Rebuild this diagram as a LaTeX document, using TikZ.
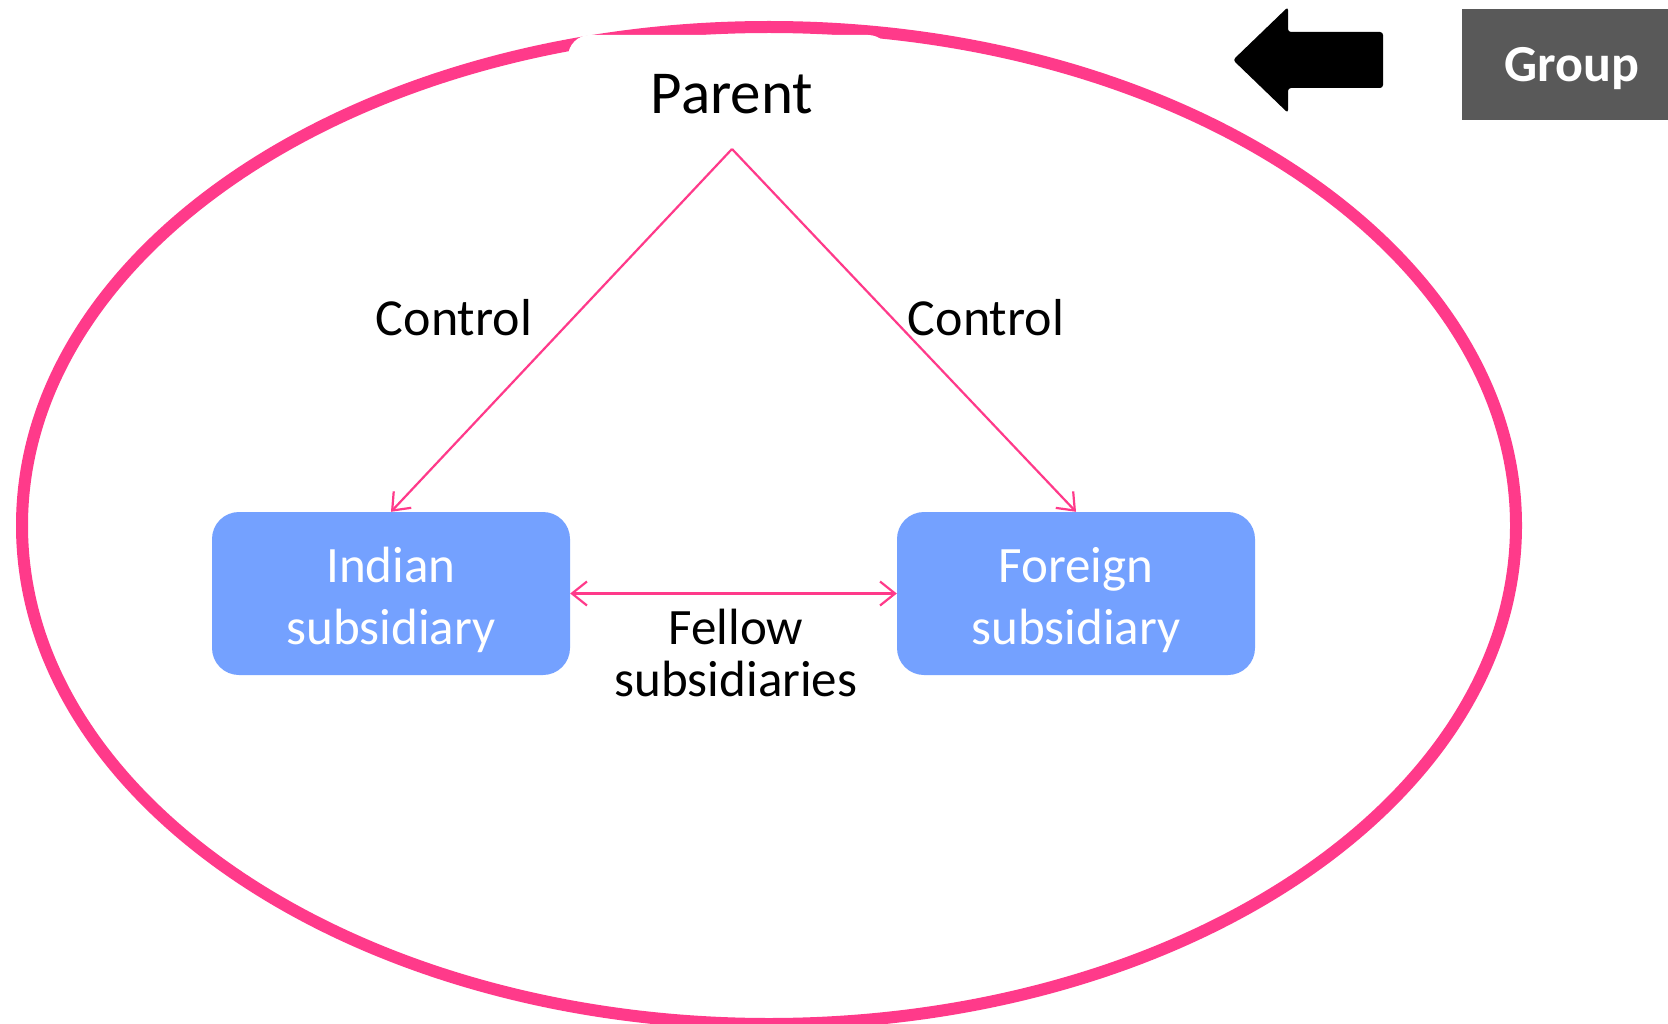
\documentclass[tikz,border=0pt]{standalone}
\usepackage{fontspec}
\setmainfont{Carlito}
\usetikzlibrary{arrows.meta}
\definecolor{groupring}{HTML}{FF3A8A}
\definecolor{subblue}{HTML}{74A1FF}
\definecolor{tagGray}{HTML}{595959}
\begin{document}
\begin{tikzpicture}[x=1pt,y=-1pt,
  ring/.style={draw=groupring,line width=12pt},
  link/.style={draw=groupring,line width=2.2pt,
    arrows={-Straight Barb[length=15pt,width=24pt,line width=2.2pt]}},
  subbox/.style={fill=subblue,rounded corners=27pt,minimum width=358pt,
    minimum height=163pt,inner sep=0pt},
  subtext/.style={text=white,align=center,inner sep=0pt,
    font=\fontsize{51}{62}\selectfont},
  lbl/.style={text=black,align=center,inner sep=0pt,
    font=\fontsize{52}{52}\selectfont}]
\useasboundingbox (0,0) rectangle (1668,1024);
\fill[white] (0,0) rectangle (1668,1024);

% the group boundary
\begin{scope}
\clip (0,0) rectangle (1668,1024);
\draw[ring] (769,525.5) ellipse [x radius=747pt, y radius=498.5pt];
\end{scope}

% parent label on a white tab over the boundary
\node[fill=white,rounded corners=22pt,minimum width=322pt,minimum height=106pt,inner sep=0pt]
  (parentbg) at (729,88) {};
\node[lbl,font=\fontsize{61}{61}\selectfont,anchor=base] (parent) at (732,114) {Parent};
\coordinate (apex) at (732,149);

% subsidiaries
\node[subbox] (indian) at (391,593.5) {};
\node[subbox] (foreign) at (1076,593.5) {};
\node[subtext] (indianT) at (391,600) {Indian\\subsidiary};
\node[subtext] (foreignT) at (1076,600) {Foreign\\subsidiary};

% control and fellow links
\draw[link] (apex) -- (indian.north);
\draw[link] (apex) -- (foreign.north);
\draw[link,arrows={Straight Barb[length=15pt,width=24pt,line width=2.2pt]-Straight Barb[length=15pt,width=24pt,line width=2.2pt]}]
  (indian.east) -- (foreign.west);

\node[lbl] (ctlL) at (454,318) {Control};
\node[lbl] (ctlR) at (986,318) {Control};
\node[lbl,align=center,font=\fontsize{51}{52}\selectfont,anchor=north] (fellow) at (736,609) {Fellow\\subsidiaries};

% group tag with pointer
\node[fill=tagGray,minimum width=206pt,minimum height=111pt,inner sep=0pt] (group) at (1565,64.5) {};
\node[text=white,inner sep=0pt,font=\bfseries\fontsize{52}{52}\selectfont] (groupT) at (1572,69) {Group};
\fill[black,rounded corners=3pt] (1233,60) -- (1288,7) -- (1288,32) -- (1383,32)
  -- (1383,88) -- (1288,88) -- (1288,113) -- cycle;
\end{tikzpicture}
\end{document}
